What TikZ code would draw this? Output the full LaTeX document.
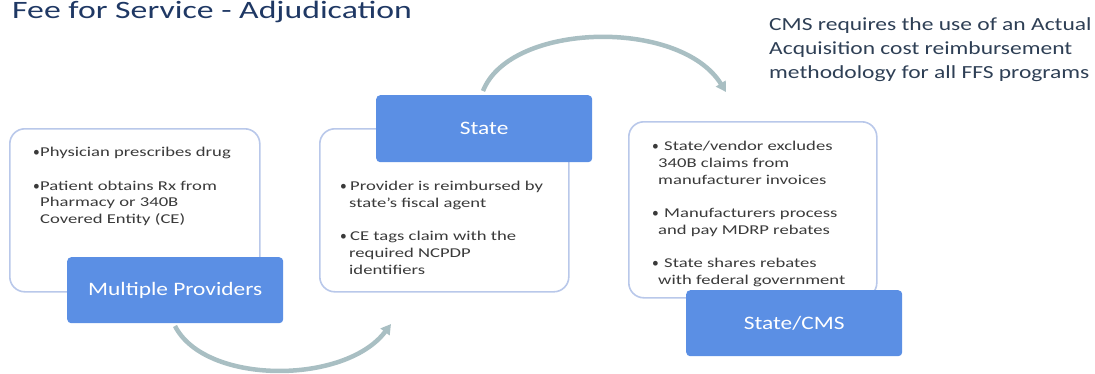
\documentclass[tikz,border=0pt]{standalone}
\usepackage{fontspec}
\setmainfont{Carlito}
\newfontfamily\bodyfont[FakeStretch=1.38]{Carlito}
\newfontfamily\labelfont[FakeStretch=1.23]{Carlito}
\newfontfamily\titlefont[FakeStretch=1.35]{Carlito}
\newfontfamily\cmsfont[FakeStretch=1.27]{Carlito}
\usetikzlibrary{arrows.meta}
\definecolor{boxblue}{HTML}{5B8FE4}
\definecolor{outl}{HTML}{B9C8EA}
\definecolor{arrowc}{HTML}{A9BFC3}
\definecolor{txt}{HTML}{3A3A3A}
\definecolor{titlec}{HTML}{1F3864}
\definecolor{cmsc}{HTML}{2E3F55}
\tikzset{
  outline/.style={draw=outl, line width=1.6pt, rounded corners=15pt, fill=white, anchor=north west},
  bluebox/.style={fill=boxblue, draw=none, rounded corners=4pt, text=white, anchor=north west,
    minimum width=216pt, minimum height=66pt, font=\labelfont\fontsize{19}{22}\selectfont},
  bodytext/.style={text=txt, align=left, anchor=base west, inner sep=0pt, font=\bodyfont\fontsize{13.5}{16.75}\selectfont},
  flow/.style={draw=arrowc, line width=4.5pt, -{Triangle[width=11pt,length=10pt]}},
}
\newcommand{\bl}{\makebox[7pt][l]{{\rmfamily •}}}
\newcommand{\blm}{\makebox[10pt][l]{{\rmfamily •}}}
\newcommand{\blw}{\makebox[12pt][l]{{\rmfamily •}}}
\newcommand{\ind}{\hspace*{7pt}}
\newcommand{\indm}{\hspace*{9pt}}
\newcommand{\indw}{\hspace*{6pt}}
\begin{document}
\begin{tikzpicture}[x=1pt,y=-1pt]
\useasboundingbox (0,0) rectangle (1095,373);
\clip (0,0) rectangle (1095,373);
% title
\node[anchor=base west, inner sep=0pt, text=titlec, font=\titlefont\fontsize{25}{28}\selectfont] (title) at (12,18.5) {Fee for Service - Adjudication};
% CMS text
\node[anchor=base west, inner sep=0pt, text=cmsc, align=left, font=\cmsfont\fontsize{18.5}{24}\selectfont] (cms) at (769,78) {CMS requires the use of an Actual\\Acquisition cost reimbursement\\methodology for all FFS programs};
% outlines
\node[outline, minimum width=250pt, minimum height=163pt] (b1) at (9,128) {};
\node[outline, minimum width=249pt, minimum height=163pt] (b2) at (319,128) {};
\node[outline, minimum width=248pt, minimum height=176pt] (b3) at (628,121) {};
% texts
\node[bodytext] (t1) at (33,223.5) {\bl Physician prescribes drug\\[16.75pt]\bl Patient obtains Rx from\\\ind Pharmacy or 340B\\\ind Covered Entity (CE)};
\node[bodytext] (t2) at (340,274.25) {\blm Provider is reimbursed by\\\indm state’s fiscal agent\\[16.75pt]\blm CE tags claim with the\\\indm required NCPDP\\\indm identifiers};
\node[bodytext] (t3) at (652,284.5) {\blw State/vendor excludes\\\indw 340B claims from\\\indw manufacturer invoices\\[16.75pt]\blw Manufacturers process\\\indw and pay MDRP rebates\\[16.75pt]\blw State shares rebates\\\indw with federal government};
% blue boxes
\node[bluebox] (mp) at (67,257) {Multiple Providers};
\node[bluebox, minimum height=67pt] (st) at (376,95) {State};
\node[bluebox] (sc) at (686,290) {State/CMS};
% arrows
\coordinate (a1s) at (175,326);
\coordinate (a1e) at (391,324);
\coordinate (a2s) at (483,91);
\coordinate (a2e) at (726,92);
\draw[flow] (a1s) .. controls (205,385) and (345,385) .. (a1e);
\draw[flow] (a2s) .. controls (510,22) and (680,18) .. (a2e);
\end{tikzpicture}
\end{document}
